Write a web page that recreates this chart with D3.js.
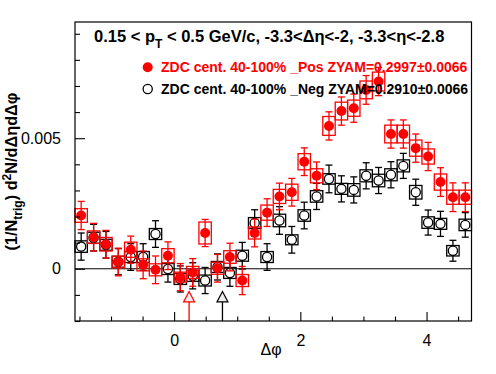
<!DOCTYPE html>
<html lang="en">
<head>
<meta charset="utf-8" />
<title>ZDC dphi correlation</title>
<script src="https://d3js.org/d3.v7.min.js"></script>
<style>
  body { margin: 0; background: #fff; }
  text { font-family: "Liberation Sans", Arial, sans-serif; }
</style>
</head>
<body>
<script>
// bin centres in delta-phi (32 bins from -pi/2 to 3pi/2)
var binCenters = [-1.473, -1.276, -1.080, -0.884, -0.687, -0.491, -0.295, -0.098,
                  0.098, 0.295, 0.491, 0.687, 0.884, 1.080, 1.276, 1.473,
                  1.669, 1.865, 2.062, 2.258, 2.454, 2.651, 2.847, 3.043,
                  3.240, 3.436, 3.632, 3.829, 4.025, 4.221, 4.418, 4.614];
var binHalfWidth = 0.0982;

// _Pos (red, filled)
var posValues = [0.00204, 0.00121, 0.00094, 0.00026, 0.00073, 0.00015, -0.00004, 0.00050,
                 -0.00032, -0.00014, 0.00137, 0.00002, 0.00045, -0.00045, 0.00137, 0.00215,
                 0.00277, 0.00293, 0.00410, 0.00356, 0.00547, 0.00604, 0.00615, 0.00685,
                 0.00717, 0.00516, 0.00516, 0.00462, 0.00430, 0.00332, 0.00274, 0.00274];
var posStat = [0.00054, 0.00053, 0.00053, 0.00053, 0.00052, 0.00053, 0.00053, 0.00053,
               0.00052, 0.00053, 0.00052, 0.00053, 0.00053, 0.00054, 0.00053, 0.00053,
               0.00051, 0.00053, 0.00053, 0.00053, 0.00054, 0.00054, 0.00054, 0.00055,
               0.00054, 0.00054, 0.00054, 0.00054, 0.00054, 0.00055, 0.00055, 0.00055];
var posSys = [0.00026, 0.00024, 0.00026, 0.00022, 0.00029, 0.00023, 0.00023, 0.00027,
              0.00019, 0.00023, 0.00042, 0.00023, 0.00024, 0.00023, 0.00023, 0.00029,
              0.00027, 0.00031, 0.00031, 0.00027, 0.00036, 0.00034, 0.00031, 0.00034,
              0.00036, 0.00034, 0.00034, 0.00031, 0.00029, 0.00031, 0.00027, 0.00027];

// _Neg (black, open)
var negValues = [0.00085, 0.00119, 0.00092, 0.00027, 0.00045, 0.00045, 0.00133, -0.00001,
                 -0.00039, -0.00027, -0.00045, 0.00007, -0.00016, 0.00050, 0.00175, 0.00045,
                 0.00185, 0.00111, 0.00204, 0.00277, 0.00344, 0.00306, 0.00302, 0.00356,
                 0.00338, 0.00360, 0.00394, 0.00293, 0.00177, 0.00172, 0.00069, 0.00168];
var negStat = [0.00052, 0.00051, 0.00051, 0.00050, 0.00051, 0.00051, 0.00051, 0.00050,
               0.00050, 0.00050, 0.00050, 0.00050, 0.00051, 0.00051, 0.00051, 0.00051,
               0.00053, 0.00051, 0.00051, 0.00050, 0.00053, 0.00050, 0.00050, 0.00050,
               0.00050, 0.00050, 0.00048, 0.00050, 0.00048, 0.00048, 0.00040, 0.00047];
var negSys = [0.00022, 0.00021, 0.00021, 0.00021, 0.00021, 0.00021, 0.00021, 0.00021,
              0.00021, 0.00021, 0.00021, 0.00021, 0.00021, 0.00021, 0.00021, 0.00021,
              0.00024, 0.00019, 0.00022, 0.00022, 0.00020, 0.00021, 0.00024, 0.00023,
              0.00024, 0.00023, 0.00023, 0.00026, 0.00022, 0.00021, 0.00020, 0.00022];

// ZYAM minimum positions (arrows)
var arrowPos = [0.237, 0.766];
var arrowColors = ["#ff0000", "#000000"];

var legendLabels = ["ZDC cent. 40-100% _Pos ZYAM=0.2997\u00b10.0066",
                    "ZDC cent. 40-100% _Neg ZYAM=0.2910\u00b10.0066"];

var yMajorTicks = [0, 0.005];
var yMinorTicks = [-0.002, -0.001, 0.001, 0.002, 0.003, 0.004, 0.006, 0.007, 0.008, 0.009];
var xMajorTicks = [0, 2, 4];
var xMinorTicks = [-1.5, -1, -0.5, 0.5, 1, 1.5, 2.5, 3, 3.5, 4.5];

var w = 496, h = 374;
var padL = 75, padR = 471.5, padT = 22, padB = 321;

var xScale = d3.scaleLinear().domain([-Math.PI / 2, 3 * Math.PI / 2]).range([padL, padR]);
var yScale = d3.scaleLinear().domain([-0.002, 0.00945]).range([padB, padT]);

var svg = d3.select("body").append("svg").attr("width", w).attr("height", h);

// zero line
svg.append("line")
  .attr("x1", padL).attr("x2", padR)
  .attr("y1", yScale(0)).attr("y2", yScale(0))
  .attr("stroke", "#000").attr("stroke-width", 1);

function drawSeries(values, stat, sys, color, filled) {
  var g = svg.append("g");
  var idx = d3.range(values.length);
  // systematic boxes
  g.selectAll("rect.sys").data(idx).enter().append("rect")
    .attr("x", function (i) { return xScale(binCenters[i] - binHalfWidth); })
    .attr("width", function (i) { return xScale(binCenters[i] + binHalfWidth) - xScale(binCenters[i] - binHalfWidth); })
    .attr("y", function (i) { return yScale(values[i] + sys[i]); })
    .attr("height", function (i) { return yScale(values[i] - sys[i]) - yScale(values[i] + sys[i]); })
    .attr("fill", "none").attr("stroke", color).attr("stroke-width", 1.3);
  // stat error bars
  g.selectAll("line.err").data(idx).enter().append("line")
    .attr("x1", function (i) { return xScale(binCenters[i]); })
    .attr("x2", function (i) { return xScale(binCenters[i]); })
    .attr("y1", function (i) { return yScale(values[i] + stat[i]); })
    .attr("y2", function (i) { return yScale(values[i] - stat[i]); })
    .attr("stroke", color).attr("stroke-width", 1.3);
  [1, -1].forEach(function (s) {
    g.selectAll(null).data(idx).enter().append("line")
      .attr("x1", function (i) { return xScale(binCenters[i]) - 3.5; })
      .attr("x2", function (i) { return xScale(binCenters[i]) + 3.5; })
      .attr("y1", function (i) { return yScale(values[i] + s * stat[i]); })
      .attr("y2", function (i) { return yScale(values[i] + s * stat[i]); })
      .attr("stroke", color).attr("stroke-width", 1.3);
  });
  // markers
  g.selectAll("circle").data(idx).enter().append("circle")
    .attr("cx", function (i) { return xScale(binCenters[i]); })
    .attr("cy", function (i) { return yScale(values[i]); })
    .attr("r", filled ? 5 : 4.6)
    .attr("fill", filled ? color : "#fff")
    .attr("stroke", filled ? "none" : color)
    .attr("stroke-width", 1.3);
}

drawSeries(negValues, negStat, negSys, "#000000", false);
drawSeries(posValues, posStat, posSys, "#ff0000", true);

// arrows for ZYAM positions
arrowPos.forEach(function (p, k) {
  var cx = xScale(p);
  var tip = yScale(-0.00087), base = yScale(-0.00127);
  svg.append("line")
    .attr("x1", cx).attr("x2", cx).attr("y1", base).attr("y2", padB)
    .attr("stroke", arrowColors[k]).attr("stroke-width", 1.3);
  svg.append("path")
    .attr("d", "M" + cx + "," + tip + "L" + (cx + 5.5) + "," + base + "L" + (cx - 5.5) + "," + base + "Z")
    .attr("fill", "#eeeeee").attr("stroke", arrowColors[k]).attr("stroke-width", 1.2);
});

// frame
svg.append("rect")
  .attr("x", padL).attr("y", padT)
  .attr("width", padR - padL).attr("height", padB - padT)
  .attr("fill", "none").attr("stroke", "#000").attr("stroke-width", 1.2);

// axes (ticks inward)
var yAxis = d3.axisLeft(yScale).tickValues(yMajorTicks).tickSize(-10).tickPadding(14)
  .tickFormat(function (d) { return d === 0 ? "0" : d3.format(".3f")(d); });
svg.append("g").attr("transform", "translate(" + padL + ",0)").call(yAxis);
svg.append("g").attr("transform", "translate(" + padL + ",0)")
  .call(d3.axisLeft(yScale).tickValues(yMinorTicks).tickSize(-5).tickFormat(""));

var xAxis = d3.axisBottom(xScale).tickValues(xMajorTicks).tickSize(-9).tickPadding(14)
  .tickFormat(d3.format("d"));
svg.append("g").attr("transform", "translate(0," + padB + ")").call(xAxis);
svg.append("g").attr("transform", "translate(0," + padB + ")")
  .call(d3.axisBottom(xScale).tickValues(xMinorTicks).tickSize(-4.5).tickFormat(""));

svg.selectAll(".domain").remove();
svg.selectAll(".tick line").attr("stroke", "#000").attr("stroke-width", 1.1);
svg.selectAll(".tick text")
  .attr("font-family", "'Liberation Sans', Arial, sans-serif")
  .attr("font-size", "16px").attr("fill", "#000");

// x axis title
svg.append("text")
  .attr("x", 271).attr("y", 355)
  .attr("text-anchor", "middle")
  .attr("font-size", "16px")
  .text("\u0394\u03c6");

// y axis title
var yt = svg.append("text")
  .attr("transform", "translate(16.5," + ((padT + padB) / 2) + ") rotate(-90)")
  .attr("text-anchor", "middle")
  .attr("font-size", "16.3px").attr("font-weight", "bold");
yt.append("tspan").text("(1/N");
yt.append("tspan").attr("dy", 5).attr("font-size", "12px").text("trig");
yt.append("tspan").attr("dy", -5).text(") d");
yt.append("tspan").attr("dy", -6).attr("font-size", "12px").text("2");
yt.append("tspan").attr("dy", 6).text("N/d\u0394\u03b7d\u0394\u03c6");

// title
var tt = svg.append("text")
  .attr("x", 94).attr("y", 42)
  .attr("font-size", "16.5px").attr("font-weight", "bold");
tt.append("tspan").text("0.15 < p");
tt.append("tspan").attr("dy", 6).attr("font-size", "12px").text("T");
tt.append("tspan").attr("dy", -6).text(" < 0.5 GeV/c, -3.3<\u0394\u03b7<-2, -3.3<\u03b7<-2.8");

// legend
var legendY = [67.3, 89];
var legendColors = ["#ff0000", "#000000"];
legendLabels.forEach(function (lab, k) {
  svg.append("circle")
    .attr("cx", 147.7).attr("cy", legendY[k])
    .attr("r", k === 0 ? 5 : 4.6)
    .attr("fill", k === 0 ? legendColors[k] : "#fff")
    .attr("stroke", k === 0 ? "none" : legendColors[k])
    .attr("stroke-width", 1.3);
  svg.append("text")
    .attr("x", 161).attr("y", legendY[k] + 5)
    .attr("font-size", "14px").attr("font-weight", "bold")
    .attr("fill", legendColors[k])
    .text(lab);
});
</script>
</body>
</html>
